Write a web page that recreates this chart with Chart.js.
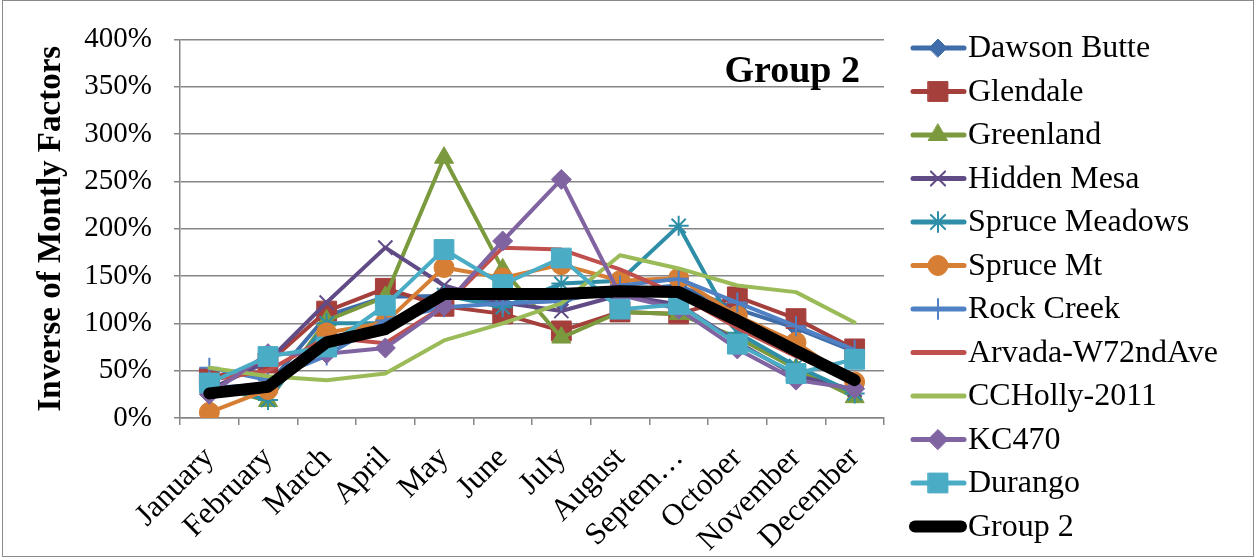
<!DOCTYPE html>
<html>
<head>
<meta charset="utf-8">
<script src="https://cdn.jsdelivr.net/npm/chart.js@4/dist/chart.umd.min.js"></script>
<style>
html,body{margin:0;padding:0;background:#fff;}
#wrap{position:relative;width:1255px;height:558px;}
canvas{display:block;}
</style>
</head>
<body>
<div id="wrap"><canvas id="c" width="1255" height="558"></canvas></div>
<script>
// ---- data (percent) ----
const months = ["January","February","March","April","May","June","July","August","September","October","November","December"];
const tickLabels = ["January","February","March","April","May","June","July","August","Septem\u2026","October","November","December"];
const yTicks = [0,50,100,150,200,250,300,350,400];

const dawsonButte   = [32, 35, 108, 128, 129, 121, 124, 135, 140, 115, 95, 70];
const glendale      = [42, 58, 113, 137, 118, 110, 92, 112, 110, 128, 105, 73];
const greenland     = [35, 18, 103, 128, 275, 157, 85, 112, 110, 85, 52, 22];
const hiddenMesa    = [30, 60, 122, 180, 140, 122, 113, 130, 120, 80, 45, 30];
const spruceMeadows = [35, 19, 100, 100, 130, 117, 142, 145, 203, 90, 55, 26];
const spruceMt      = [6, 30, 90, 101, 159, 148, 162, 145, 148, 108, 80, 38];
const rockCreek     = [53, 40, 66, 103, 117, 121, 124, 140, 147, 122, 97, 72];
const arvada        = [40, 50, 85, 79, 118, 180, 178, 157, 130, 95, 65, 40];
const ccHolly       = [53, 44, 40, 47, 82, 100, 121, 172, 158, 140, 133, 101];
const kc470         = [25, 68, 68, 74, 118, 187, 252, 130, 115, 73, 40, 31];
const durango       = [37, 65, 75, 119, 178, 141, 169, 115, 120, 78, 47, 62];
const group2        = [26, 33, 80, 94, 131, 131, 131, 134, 133, 103, 71, 40];

const seriesNames = ["Dawson Butte","Glendale","Greenland","Hidden Mesa","Spruce Meadows","Spruce Mt","Rock Creek","Arvada-W72ndAve","CCHolly-2011","KC470","Durango","Group 2"];
const seriesData = [dawsonButte, glendale, greenland, hiddenMesa, spruceMeadows, spruceMt, rockCreek, arvada, ccHolly, kc470, durango, group2];

// ---- styles ----
const colors = ["#3F6DA9","#A53F3C","#7B9A3E","#604B86","#2F8EA7","#D77E35","#4F81C4","#C0504D","#9BBB59","#8064A2","#4BACC6","#000000"];
const pStyles = ["rectRot","rect","triangle","crossRot","star","circle","cross",false,false,"rectRot","rect",false];
const pRadius = [9,14,11,10,10,10,10,0,0,10,14,0];
const pBorder = [1,1,1,2,2,1,2,0,0,1,1,0];

const SERIF = '"Liberation Serif","Times New Roman",serif';

const datasets = seriesNames.map((name, i) => ({
  label: name,
  data: seriesData[i],
  borderColor: colors[i],
  backgroundColor: colors[i],
  borderWidth: i === 11 ? 12 : 4,
  borderJoinStyle: 'round',
  borderCapStyle: 'round',
  pointStyle: pStyles[i] || 'circle',
  pointRadius: pRadius[i],
  pointHoverRadius: pRadius[i],
  pointBackgroundColor: colors[i],
  pointBorderColor: colors[i],
  pointBorderWidth: pBorder[i],
  tension: 0,
  fill: false,
  order: seriesNames.length - i
}));

const sideLegend = {
  id: 'sideLegend',
  afterDraw(chart) {
    const ctx = chart.ctx;
    chart.data.datasets.forEach((ds, i) => {
      const y = 48 + i * 43.5;
      ctx.save();
      ctx.strokeStyle = ds.borderColor;
      ctx.lineWidth = i === 11 ? 12 : 5;
      ctx.lineCap = 'round';
      ctx.beginPath();
      ctx.moveTo(i === 11 ? 915 : 913, y);
      ctx.lineTo(i === 11 ? 961 : 964, y);
      ctx.stroke();
      if (ds.pointRadius > 0) {
        ctx.fillStyle = ds.pointBackgroundColor;
        ctx.strokeStyle = ds.pointBorderColor;
        ctx.lineWidth = ds.pointBorderWidth;
        Chart.helpers.drawPoint(ctx, {pointStyle: ds.pointStyle, radius: ds.pointRadius, rotation: 0, borderWidth: ds.pointBorderWidth}, 938, y);
      }
      ctx.fillStyle = '#000';
      ctx.font = '32px ' + SERIF;
      ctx.textBaseline = 'middle';
      ctx.textAlign = 'left';
      ctx.fillText(ds.label, 968, y + 1);
      ctx.restore();
    });
  }
};

const groupTitle = {
  id: 'groupTitle',
  afterDatasetsDraw(chart) {
    const ctx = chart.ctx;
    ctx.save();
    ctx.fillStyle = '#000';
    ctx.font = 'bold 38px ' + SERIF;
    ctx.textAlign = 'right';
    ctx.textBaseline = 'alphabetic';
    ctx.fillText('Group 2', 860, 82);
    ctx.restore();
  },
  afterDraw(chart) {
    const ctx = chart.ctx;
    ctx.save();
    ctx.strokeStyle = '#8a8a8a';
    ctx.lineWidth = 1;
    ctx.strokeRect(2.5, 0.5, chart.width - 4, chart.height - 2);
    ctx.restore();
  }
};

new Chart(document.getElementById('c'), {
  type: 'line',
  data: { labels: months, datasets },
  plugins: [sideLegend, groupTitle],
  options: {
    responsive: false,
    animation: false,
    devicePixelRatio: 1,
    layout: { padding: { top: 37, right: 371, bottom: 0, left: 0 } },
    plugins: { legend: { display: false }, tooltip: { enabled: false }, title: { display: false } },
    scales: {
      x: {
        offset: true,
        grid: { offset: true, drawOnChartArea: false, drawTicks: true, tickLength: 7, color: '#868686', lineWidth: 1.5 },
        border: { display: true, color: '#868686', width: 1.5 },
        ticks: {
          autoSkip: false, maxRotation: 45, minRotation: 45, padding: 15,
          color: '#000', font: { family: SERIF, size: 31 },
          callback: (v, i) => tickLabels[i]
        },
        afterFit: (s) => { s.height = 140; }
      },
      y: {
        min: 0, max: 400,
        afterBuildTicks: (s) => { s.ticks = yTicks.map(v => ({ value: v })); },
        grid: { color: '#868686', lineWidth: 1.5, drawTicks: true, tickLength: 6 },
        border: { display: true, color: '#868686', width: 1.5 },
        ticks: { color: '#000', padding: 22, font: { family: SERIF, size: 29 }, callback: (v) => v + '%' },
        title: { display: true, text: 'Inverse of Montly Factors', color: '#000', font: { family: SERIF, size: 33, weight: 'bold' }, padding: { top: 32, bottom: 0 } },
        afterFit: (s) => { s.width = 180; }
      }
    }
  }
});
</script>
</body>
</html>
